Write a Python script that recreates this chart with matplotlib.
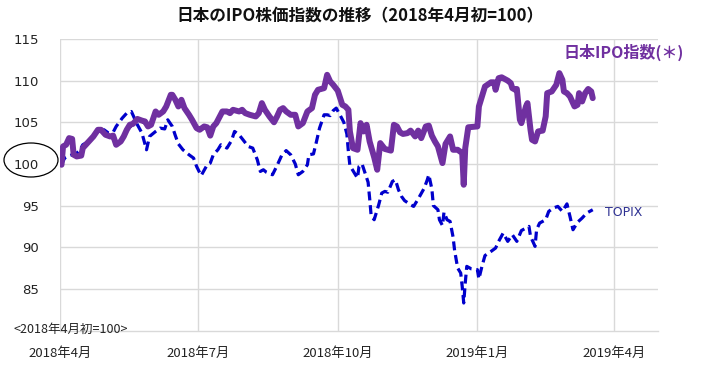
import matplotlib
matplotlib.use("Agg")
import matplotlib.pyplot as plt
from matplotlib.patches import Ellipse
import pandas as pd

plt.rcParams['font.family'] = ['Noto Sans CJK JP', 'DejaVu Sans']

title = "日本のIPO株価指数の推移（2018年4月初=100）"
ipo_label = "日本IPO指数(＊)"
topix_label = "TOPIX"
base_note = "<2018年4月初=100>"

ipo_dates = [
    "2018-04-02", "2018-04-03", "2018-04-05", "2018-04-07", "2018-04-09", "2018-04-10", "2018-04-12",
    "2018-04-15", "2018-04-16", "2018-04-19", "2018-04-23", "2018-04-26", "2018-04-28",
    "2018-05-01", "2018-05-04", "2018-05-06", "2018-05-08", "2018-05-11", "2018-05-13", "2018-05-15",
    "2018-05-17", "2018-05-19", "2018-05-22", "2018-05-25", "2018-05-27", "2018-05-29", "2018-05-31",
    "2018-06-03", "2018-06-05", "2018-06-08", "2018-06-10", "2018-06-13", "2018-06-14", "2018-06-16",
    "2018-06-18", "2018-06-20", "2018-06-22", "2018-06-25", "2018-06-27", "2018-06-30",
    "2018-07-02", "2018-07-05", "2018-07-07", "2018-07-09", "2018-07-11", "2018-07-13", "2018-07-17",
    "2018-07-20", "2018-07-22", "2018-07-24", "2018-07-28", "2018-07-30",
    "2018-08-01", "2018-08-04", "2018-08-08", "2018-08-10", "2018-08-12", "2018-08-14", "2018-08-17",
    "2018-08-20", "2018-08-22", "2018-08-24", "2018-08-26", "2018-08-28", "2018-08-31",
    "2018-09-03", "2018-09-05", "2018-09-08", "2018-09-11", "2018-09-14", "2018-09-16", "2018-09-18",
    "2018-09-22", "2018-09-24", "2018-09-26", "2018-09-28",
    "2018-10-01", "2018-10-04", "2018-10-06", "2018-10-08", "2018-10-09", "2018-10-11", "2018-10-14",
    "2018-10-15", "2018-10-16", "2018-10-18", "2018-10-20", "2018-10-22", "2018-10-25", "2018-10-27",
    "2018-10-29",
    "2018-11-01", "2018-11-05", "2018-11-07", "2018-11-09", "2018-11-11", "2018-11-13", "2018-11-16",
    "2018-11-18", "2018-11-21", "2018-11-23", "2018-11-25", "2018-11-28", "2018-11-30",
    "2018-12-02", "2018-12-04", "2018-12-06", "2018-12-09", "2018-12-11", "2018-12-14", "2018-12-16",
    "2018-12-19", "2018-12-22", "2018-12-23", "2018-12-24", "2018-12-26",
    "2019-01-01", "2019-01-02", "2019-01-04", "2019-01-06", "2019-01-10", "2019-01-12", "2019-01-13",
    "2019-01-15", "2019-01-17", "2019-01-21", "2019-01-23", "2019-01-24", "2019-01-26", "2019-01-27",
    "2019-01-29", "2019-01-30",
    "2019-02-02", "2019-02-03", "2019-02-05", "2019-02-06", "2019-02-08", "2019-02-10", "2019-02-13",
    "2019-02-15", "2019-02-16", "2019-02-19", "2019-02-22", "2019-02-24", "2019-02-26", "2019-02-27",
    "2019-03-01", "2019-03-03", "2019-03-06", "2019-03-08", "2019-03-09", "2019-03-11", "2019-03-13",
    "2019-03-15", "2019-03-17", "2019-03-18",
]
ipo_values = [
    99.9, 102.1, 102.3, 103.1, 103.0, 101.1, 100.9, 101.0, 101.9, 102.5, 103.3, 104.1, 104.1,
    103.5, 103.3, 103.4, 102.3, 102.7, 103.3, 104.1, 104.7, 104.8, 105.4, 105.2, 105.1, 104.5, 104.7,
    106.3, 105.9, 106.3, 106.9, 108.3, 108.3, 107.7, 106.9, 107.7, 106.7, 105.9, 105.3, 104.3,
    104.1, 104.5, 104.4, 103.4, 104.5, 104.9, 106.3, 106.3, 106.1, 106.5, 106.3, 106.5,
    106.1, 105.9, 105.7, 106.1, 107.3, 106.5, 105.7, 105.0, 105.7, 106.5, 106.7, 106.3, 105.9,
    105.9, 104.5, 104.9, 106.3, 106.7, 108.3, 108.9, 109.1, 110.7, 109.9, 109.5,
    108.8, 107.1, 106.9, 106.5, 103.9, 101.9, 101.7, 103.3, 104.9, 103.9, 104.7, 102.7, 100.8, 99.3, 102.5,
    101.8, 101.6, 104.7, 104.5, 103.8, 103.6, 103.7, 104.0, 103.3, 104.0, 103.1, 104.5, 104.6,
    103.4, 102.7, 102.1, 100.1, 102.4, 103.3, 101.7, 101.7, 101.3, 97.5, 101.9, 104.4,
    104.5, 106.9, 108.1, 109.3, 109.8, 109.8, 108.9, 110.3, 110.4, 110.0, 109.7, 109.1, 108.9, 109.0, 105.3, 104.9,
    106.9, 107.3, 104.1, 102.9, 102.7, 103.9, 104.0, 105.7, 108.5, 108.7, 109.5, 110.9, 110.1, 108.7,
    108.5, 108.1, 106.9, 107.1, 108.5, 107.5, 108.5, 109.0, 108.7, 107.9,
]

topix_dates = [
    "2018-04-02", "2018-04-04", "2018-04-06", "2018-04-09", "2018-04-12", "2018-04-14", "2018-04-16",
    "2018-04-20", "2018-04-23", "2018-04-26", "2018-04-30",
    "2018-05-03", "2018-05-06", "2018-05-08", "2018-05-12", "2018-05-15", "2018-05-18", "2018-05-20",
    "2018-05-22", "2018-05-25", "2018-05-28", "2018-05-30",
    "2018-06-03", "2018-06-06", "2018-06-09", "2018-06-11", "2018-06-14", "2018-06-16", "2018-06-18",
    "2018-06-21", "2018-06-25", "2018-06-28", "2018-06-30",
    "2018-07-03", "2018-07-07", "2018-07-09", "2018-07-11", "2018-07-14", "2018-07-16", "2018-07-20",
    "2018-07-23", "2018-07-25", "2018-07-28", "2018-07-31",
    "2018-08-03", "2018-08-06", "2018-08-09", "2018-08-11", "2018-08-13", "2018-08-15", "2018-08-19",
    "2018-08-22", "2018-08-25", "2018-08-28", "2018-08-31",
    "2018-09-03", "2018-09-05", "2018-09-08", "2018-09-11", "2018-09-12", "2018-09-15", "2018-09-17",
    "2018-09-19", "2018-09-22", "2018-09-24", "2018-09-26", "2018-09-28", "2018-09-30",
    "2018-10-03", "2018-10-05", "2018-10-07", "2018-10-08", "2018-10-09", "2018-10-11", "2018-10-14",
    "2018-10-15", "2018-10-17", "2018-10-19", "2018-10-21", "2018-10-22", "2018-10-23", "2018-10-25",
    "2018-10-28", "2018-10-30",
    "2018-11-01", "2018-11-03", "2018-11-06", "2018-11-08", "2018-11-10", "2018-11-12", "2018-11-14",
    "2018-11-18", "2018-11-20", "2018-11-23", "2018-11-27", "2018-11-29", "2018-11-30",
    "2018-12-02", "2018-12-03", "2018-12-06", "2018-12-07", "2018-12-09", "2018-12-10", "2018-12-12",
    "2018-12-14", "2018-12-16", "2018-12-17", "2018-12-19", "2018-12-21", "2018-12-22", "2018-12-23",
    "2018-12-24", "2018-12-25", "2018-12-28",
    "2019-01-01", "2019-01-02", "2019-01-04", "2019-01-06", "2019-01-10", "2019-01-13", "2019-01-15",
    "2019-01-18", "2019-01-21", "2019-01-24", "2019-01-27", "2019-01-30",
    "2019-02-04", "2019-02-05", "2019-02-08", "2019-02-09", "2019-02-11", "2019-02-15", "2019-02-17",
    "2019-02-20", "2019-02-23", "2019-02-26",
    "2019-03-01", "2019-03-03", "2019-03-05", "2019-03-08", "2019-03-11", "2019-03-13", "2019-03-15",
    "2019-03-18",
]
topix_values = [
    99.9, 100.7, 100.9, 101.1, 101.3, 101.6, 102.3, 102.7, 103.3, 103.9, 104.1,
    103.7, 103.8, 104.5, 105.5, 106.1, 106.3, 105.5, 104.7, 103.7, 101.7, 103.3,
    103.9, 104.3, 104.2, 105.3, 104.5, 103.4, 102.4, 101.7, 101.1, 100.7, 99.7,
    98.6, 99.9, 100.1, 101.1, 101.7, 102.3, 101.9, 102.8, 103.9, 103.5, 102.8,
    102.1, 101.9, 100.5, 99.1, 99.3, 99.0, 98.7, 99.8, 101.0, 101.6, 101.1,
    100.0, 98.7, 99.1, 99.9, 101.1, 101.2, 102.7, 104.3, 105.9, 105.9, 105.8, 106.4, 106.7,
    105.7, 105.0, 103.6, 101.5, 99.8, 99.2, 98.3, 99.7, 100.0, 98.9, 97.8, 95.9, 93.8, 93.3, 95.1, 96.5,
    96.7, 96.6, 97.9, 98.1, 96.9, 96.1, 95.6, 95.1, 94.9, 95.8, 97.1, 98.1, 98.7,
    97.0, 95.0, 94.5, 93.3, 92.6, 94.2, 93.3, 93.1, 91.2, 89.6, 87.5, 86.9, 85.3, 83.3, 85.7, 87.7, 87.4,
    87.3, 86.2, 87.7, 89.0, 89.5, 89.9, 90.7, 91.7, 90.7, 91.5, 90.7, 92.0,
    92.5, 91.3, 90.1, 92.1, 92.9, 93.3, 94.3, 94.7, 94.9, 94.3,
    95.2, 93.7, 92.1, 93.0, 93.5, 93.9, 94.2, 94.5,
]

x_tick_dates = ["2018-04-01", "2018-07-01", "2018-10-01", "2019-01-01", "2019-04-01"]
x_tick_labels = ["2018年4月", "2018年7月", "2018年10月", "2019年1月", "2019年4月"]
y_ticks = [85, 90, 95, 100, 105, 110, 115]
x_range = ["2018-04-01", "2019-04-30"]
y_range = [80, 115]

W, H = 702, 374
fig = plt.figure(figsize=(W / 100, H / 100), dpi=100)
ax = fig.add_axes([60 / W, 1 - 330.5 / H, 598 / W, 291.5 / H])

grid_c = "#D9D9D9"
ax.plot(pd.to_datetime(topix_dates), topix_values, color="#0000CC", lw=2.3,
        dashes=(2.8, 1.5), solid_capstyle="butt", dash_capstyle="butt", zorder=3)
ax.plot(pd.to_datetime(ipo_dates), ipo_values, color="#7030A0", lw=4.3,
        solid_joinstyle="round", solid_capstyle="round", zorder=4)

ax.set_xlim(pd.to_datetime(x_range[0]), pd.to_datetime(x_range[1]))
ax.set_ylim(*y_range)
ax.set_xticks(pd.to_datetime(x_tick_dates))
ax.set_xticklabels(x_tick_labels, fontsize=9.5, color="#222222")
ax.set_yticks(y_ticks)
ax.set_yticklabels([str(v) for v in y_ticks], fontsize=9.5, color="#222222",
                   family="DejaVu Sans")
ax.tick_params(axis="both", length=0)
ax.tick_params(axis="x", pad=12)
ax.tick_params(axis="y", pad=15)
ax.grid(True, color=grid_c, lw=1.0)
ax.set_axisbelow(True)
for s in ["top", "right", "left"]:
    ax.spines[s].set_visible(False)
ax.spines["bottom"].set_color(grid_c)
ax.spines["bottom"].set_linewidth(1.0)

fig.text(360 / W, 1 - 16 / H, title, ha="center", va="center", fontsize=12,
         fontweight="bold", color="#111111")
fig.text(624 / W, 1 - 52 / H, ipo_label, ha="center", va="center", fontsize=11.5,
         fontweight="bold", color="#7030A0")
fig.text(605 / W, 1 - 212 / H, topix_label, ha="left", va="center", fontsize=9,
         color="#2E3192", family="DejaVu Sans")
fig.text(71 / W, 1 - 329 / H, base_note, ha="center", va="center", fontsize=9,
         color="#222222")

ell = Ellipse((31 / W, 1 - 160 / H), 54 / W, 34 / H, transform=fig.transFigure,
              fill=False, edgecolor="black", lw=0.9)
fig.patches.append(ell)

fig.savefig("out.png", dpi=100)
